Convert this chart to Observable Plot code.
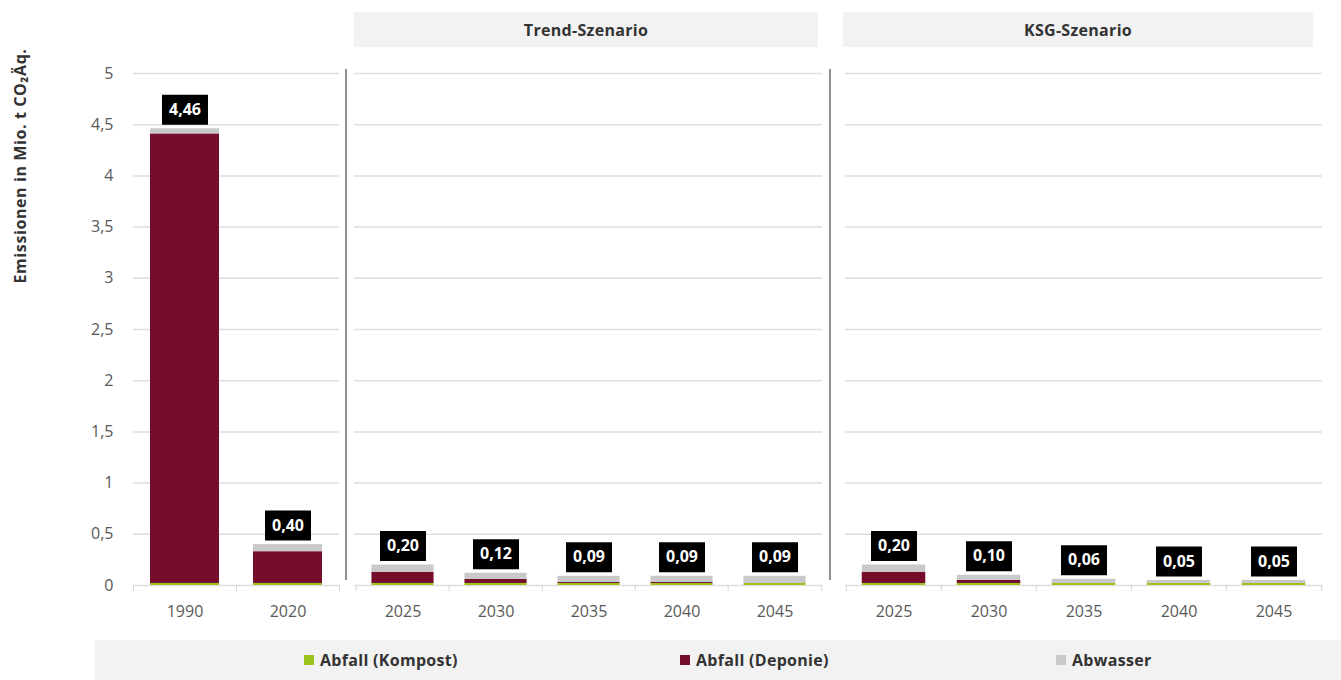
<!DOCTYPE html>
<html><head><meta charset="utf-8">
<script src="https://cdn.jsdelivr.net/npm/d3@7"></script>
<script src="https://cdn.jsdelivr.net/npm/@observablehq/plot@0.6"></script>
<style>
body{margin:0;background:#fff;font-family:"Open Sans",sans-serif;}
#root{position:relative;width:1341px;height:680px;overflow:hidden;background:#fff}
.panel{position:absolute;top:0}
.sep{position:absolute;width:2px;background:#8f8f8f;top:69px;height:511px}
.hdr{position:absolute;top:12px;height:35px;background:#f2f2f2;display:flex;align-items:center;justify-content:center;font-weight:700;font-size:16px;letter-spacing:0.3px;color:#333}
.ytitle{position:absolute;left:20px;top:166px;transform:translate(-50%,-50%) rotate(-90deg);white-space:nowrap;font-weight:700;font-size:16px;letter-spacing:0.6px;color:#333}
#legend{position:absolute;left:95px;top:640px;width:1246px;height:40px;background:#f2f2f2;display:flex;align-items:center;padding-left:209px;box-sizing:border-box;font-weight:700;font-size:16px;color:#333}
#legend .leg-swatches{margin:0 !important;min-height:0 !important;flex-wrap:nowrap !important;font-family:"Open Sans",sans-serif !important;font-size:16px !important;letter-spacing:0.3px;}
#legend .leg-swatch{width:366px !important;margin-right:10px !important;flex:0 0 auto;}
#legend .leg-swatch:last-child{width:auto !important;}
#legend .leg-swatch svg{margin-right:6px !important;}
</style></head>
<body><div id="root"></div>
<script>
const series = ["Abfall (Kompost)", "Abfall (Deponie)", "Abwasser"];
const colors = ["#9bc31c", "#760d2b", "#c9c9c9"];
const yTicks = [0, 0.5, 1, 1.5, 2, 2.5, 3, 3.5, 4, 4.5, 5];
const yTitle = "Emissionen in Mio. t CO₂Äq.";
const panelTitles = ["Trend-Szenario", "KSG-Szenario"];

const histYears = ["1990", "2020"];
const histKompost = [0.02, 0.02];
const histDeponie = [4.39, 0.31];
const histAbwasser = [0.05, 0.07];

const scenYears = ["2025", "2030", "2035", "2040", "2045"];
const trendKompost = [0.02, 0.02, 0.02, 0.02, 0.02];
const trendDeponie = [0.11, 0.04, 0.01, 0.01, 0.00];
const trendAbwasser = [0.07, 0.06, 0.06, 0.06, 0.07];

const ksgKompost = [0.02, 0.02, 0.02, 0.02, 0.02];
const ksgDeponie = [0.11, 0.03, 0.00, 0.00, 0.00];
const ksgAbwasser = [0.07, 0.05, 0.04, 0.03, 0.03];

const root = document.getElementById("root");

const labelBox = {draw(ctx) { ctx.moveTo(-23, -15); ctx.lineTo(23, -15); ctx.lineTo(23, 15); ctx.lineTo(-23, 15); ctx.closePath(); }};

function panel({years, values, left, width, ml, mr, yAxis}) {
  const rows = [];
  years.forEach((yr, i) => series.forEach((s, j) => rows.push({year: yr, series: s, value: values[j][i]})));
  const totals = years.map((yr, i) => ({year: yr, total: d3.sum(values, v => v[i])}));
  const band = (width - ml - mr) / years.length;
  const inset = band * 0.165;
  const chart = Plot.plot({
    width, height: 630, marginTop: 73, marginBottom: 45, marginLeft: ml, marginRight: mr,
    style: {fontFamily: "'Open Sans', sans-serif", fontSize: "16px", color: "#595959", background: "transparent", overflow: "visible"},
    x: {domain: years, padding: 0, axis: null},
    y: {domain: [0, 5], axis: null},
    color: {domain: series, range: colors},
    marks: [
      Plot.gridY(yTicks, {stroke: "#dedede", strokeOpacity: 1, strokeWidth: 1.5}),
      yAxis ? Plot.axisY(yTicks, {tickSize: 0, tickPadding: 20, tickFormat: d => d.toLocaleString("de-DE"), fontSize: 16, label: null}) : null,
      Plot.ruleX(years, {x: d => d, dx: -band / 2, y1: 0, y2: -0.06, stroke: "#d6d6d6"}),
      Plot.ruleX(years.slice(-1), {x: d => d, dx: band / 2, y1: 0, y2: -0.06, stroke: "#d6d6d6"}),
      Plot.axisX({tickSize: 0, tickPadding: 20, fontSize: 16, label: null}),
      Plot.barY(rows, {x: "year", y: "value", fill: "series", order: series, insetLeft: inset, insetRight: inset}),
      Plot.dot(totals, {x: "year", y: "total", dy: -19, symbol: labelBox, r: 5, fill: "#000"}),
      Plot.text(totals, {x: "year", y: "total", dy: -19, text: d => d.total.toFixed(2).replace(".", ","), fill: "#fff", fontWeight: 700, fontSize: 16})
    ]
  });
  chart.classList.add("panel");
  chart.style.left = left + "px";
  root.appendChild(chart);
}

panel({years: histYears, values: [histKompost, histDeponie, histAbwasser], left: 0, width: 346, ml: 133, mr: 7, yAxis: true});
panel({years: scenYears, values: [trendKompost, trendDeponie, trendAbwasser], left: 346, width: 484, ml: 8, mr: 8, yAxis: false});
panel({years: scenYears, values: [ksgKompost, ksgDeponie, ksgAbwasser], left: 830, width: 511, ml: 15, mr: 19, yAxis: false});

[345, 829].forEach(x => { const s = document.createElement("div"); s.className = "sep"; s.style.left = x + "px"; root.appendChild(s); });

[[354, 464], [843, 470]].forEach(([l, w], i) => {
  const h = document.createElement("div"); h.className = "hdr"; h.style.left = l + "px"; h.style.width = w + "px";
  h.textContent = panelTitles[i]; root.appendChild(h);
});

const yt = document.createElement("div"); yt.className = "ytitle"; yt.textContent = yTitle; root.appendChild(yt);

const leg = document.createElement("div"); leg.id = "legend";
leg.appendChild(Plot.legend({color: {domain: series, range: colors}, legend: "swatches", swatchSize: 10, className: "leg"}));
root.appendChild(leg);
</script></body></html>
